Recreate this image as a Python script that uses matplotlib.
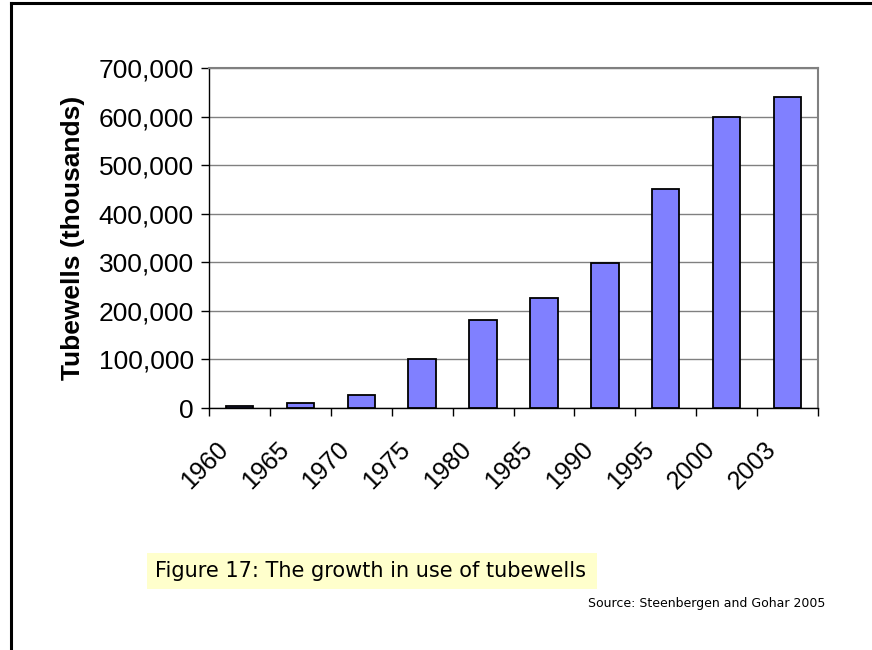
import matplotlib.pyplot as plt
from matplotlib.patches import Rectangle
from matplotlib.lines import Line2D
from matplotlib.ticker import FuncFormatter, FixedLocator

# Tubewell counts by year
years = ['1960', '1965', '1970', '1975', '1980', '1985', '1990', '1995', '2000', '2003']
tubewells = [5000, 10000, 27000, 100000, 181000, 226000, 298000, 450000, 600000, 640000]

plt.rcParams['font.family'] = ['Liberation Sans', 'DejaVu Sans']

fig = plt.figure(figsize=(8.72, 6.5), dpi=100)
ax = fig.add_axes([209 / 872, 1 - 408 / 650, 609 / 872, 340 / 650])

x = list(range(len(years)))
ax.bar(x, tubewells, width=0.45, color='#8080FF', edgecolor='black', linewidth=1.3, zorder=3)

ax.set_xlim(-0.5, len(years) - 0.5)
ax.set_ylim(0, 700000)
ax.set_yticks(range(0, 700001, 100000))
ax.yaxis.set_major_formatter(FuncFormatter(lambda v, p: f'{int(v):,}'))
ax.tick_params(axis='y', labelsize=19, length=6, width=1, direction='out', pad=5)
ax.grid(axis='y', color='#808080', linewidth=1, zorder=0)

# ticks at category boundaries, labels at category centers
ax.xaxis.set_major_locator(FixedLocator([i - 0.5 for i in range(len(years) + 1)]))
ax.set_xticklabels([])
ax.tick_params(axis='x', length=6, width=1, direction='out')
for i, yr in enumerate(years):
    ax.annotate(yr, xy=(i, 0), xycoords=('data', 'axes fraction'),
                xytext=(-11, -27), textcoords='offset points',
                rotation=45, ha='right', va='center', rotation_mode='anchor', fontsize=18)

ax.set_ylabel('Tubewells (thousands)', fontsize=19, fontweight='bold', labelpad=10)

for side in ['top', 'right']:
    ax.spines[side].set_color('#808080')
    ax.spines[side].set_linewidth(1.5)
for side in ['left', 'bottom']:
    ax.spines[side].set_color('black')
    ax.spines[side].set_linewidth(1)

# page frame (left and top)
fig.add_artist(Line2D([11 / 872, 11 / 872], [0, 1 - 3 / 650], color='black', linewidth=2.2))
fig.add_artist(Line2D([11 / 872, 1], [1 - 3 / 650, 1 - 3 / 650], color='black', linewidth=2.2))

# caption box
fig.add_artist(Rectangle((147 / 872, 1 - 589 / 650), 450 / 872, 36 / 650,
                         transform=fig.transFigure, facecolor='#FFFFCC', edgecolor='none'))
fig.text(155 / 872, 1 - 571 / 650, 'Figure 17: The growth in use of tubewells',
         fontsize=15, va='center', ha='left', family=['DejaVu Sans'])
fig.text(825 / 872, 1 - 603 / 650, 'Source: Steenbergen and Gohar 2005',
         fontsize=9, va='center', ha='right', family=['DejaVu Sans'])

fig.savefig('out.png', dpi=100)
